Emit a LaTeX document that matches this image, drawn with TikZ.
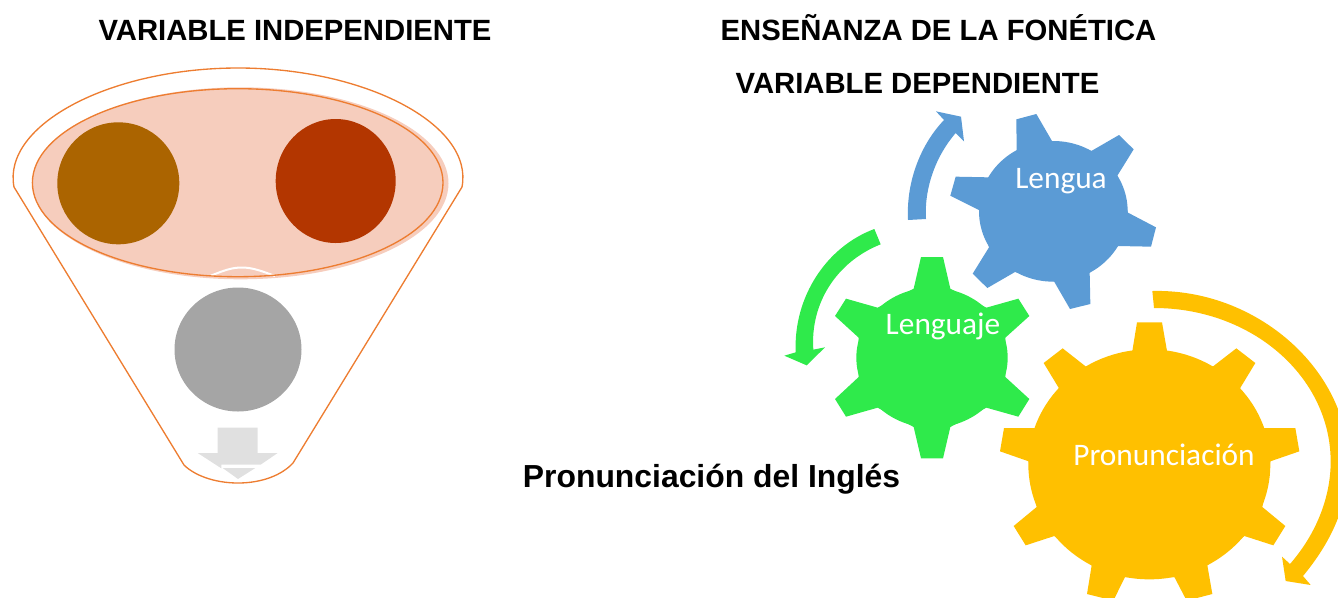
\documentclass[tikz,border=0pt]{standalone}
\usepackage{fontspec}
\setmainfont{Liberation Sans}
\newfontfamily\gearfont{Carlito}
\definecolor{funnelline}{HTML}{ED7D31}
\definecolor{pinkfill}{HTML}{F6CDBD}
\definecolor{brownc}{HTML}{AB6400}
\definecolor{redc}{HTML}{B33600}
\definecolor{grayc}{HTML}{A5A5A5}
\definecolor{arrowgray}{HTML}{E0E0E0}
\definecolor{gearblue}{HTML}{5B9BD5}
\definecolor{geargreen}{HTML}{2FEA4B}
\definecolor{gearyellow}{HTML}{FFC000}
\tikzset{
  headline/.style={anchor=base,inner sep=0pt,font=\fontsize{21.95}{24}\selectfont\bfseries},
  gearlabel/.style={anchor=base,inner sep=0pt,text=white,font=\fontsize{23.5}{26}\gearfont},
  zoomed/.style={x=.25pt,y=-.25pt},
  funnelstroke/.style={draw=funnelline,line width=1pt}
}
\begin{document}
\begin{tikzpicture}[x=.75pt,y=-.75pt]
\useasboundingbox (0,0) rectangle (1338,597);
\clip (0,0) rectangle (1338,597);
% funnel
\draw[funnelstroke] (14,187) .. controls (2,125) and (110,68) .. (238,68)
  .. controls (366,68) and (474,125) .. (462,187) -- (293,463)
  .. controls (282,475) and (262,483) .. (238,483)
  .. controls (214,483) and (194,475) .. (184,465) -- cycle;
\fill[pinkfill] (240.5,183.3) ellipse [x radius=208,y radius=96];
\fill[pinkfill] (237.7,182.7) ellipse [x radius=205.3,y radius=94];
\draw[white,line width=1.5pt] (210,276) .. controls (225,270) and (232,267.5) .. (242,267.5) .. controls (252,267.5) and (262,271) .. (275,276);
\draw[funnelstroke] (237.7,182.7) ellipse [x radius=205.3,y radius=94];
\node[circle,fill=brownc,minimum size=91.5pt,inner sep=0pt] (c1) at (118.3,183.3) {};
\fill[redc] (335.7,181) ellipse [x radius=60,y radius=62];
\fill[grayc] (238,349.5) ellipse [x radius=63.5,y radius=62];
\begin{scope}[shift={(150,250)},zoomed]
\fill[arrowgray] (203,533) -- (323,533) -- (323,609) -- (383,609) -- (332,644) -- (214,644) -- (214,655) -- (143,609) -- (203,609) -- cycle;
\fill[arrowgray] (218,654) -- (316,654) -- (264,687) -- cycle;
\end{scope}
% blue gear and arrow
\begin{scope}[shift={(780,100)},zoomed]
\fill[gearblue] (820,334) ellipse [x radius=223,y radius=211];
\fill[gearblue] (709,58) -- (769,42) -- (816,123) -- (934,153) -- (1017,105) -- (1061,148) -- (1012,227) -- (1044,338) -- (1128,382) -- (1113,440) -- (1014,438) -- (929,518) -- (931,612) -- (870,627) -- (822,544) -- (705,516) -- (622,564) -- (578,521) -- (627,442) -- (597,330) -- (511,287) -- (527,230) -- (626,232) -- (710,152) -- cycle;
\fill[gearblue] (384,360) .. controls (378,240) and (425,130) .. (492,60) -- (468,34) -- (543,50) -- (552,124) -- (527,99) .. controls (470,165) and (432,260) .. (438,357) -- cycle;
\fill[geargreen] (283,387) .. controls (140,440) and (40,590) .. (47,757) -- (13,767) -- (80,796) -- (135,742) -- (100,749) .. controls (90,610) and (170,485) .. (302,433) -- cycle;
\end{scope}
% green gear
\begin{scope}[shift={(780,240)},zoomed]
\fill[geargreen] (456,353) ellipse [x radius=227,y radius=210];
\fill[geargreen] (423,51) -- (489,51) -- (511,146) -- (619,203) -- (715,176) -- (748,228) -- (676,293) -- (676,411) -- (748,477) -- (715,530) -- (619,503) -- (511,561) -- (489,655) -- (423,655) -- (401,561) -- (293,503) -- (198,530) -- (165,477) -- (236,411) -- (236,293) -- (165,228) -- (198,176) -- (293,203) -- (401,146) -- cycle;
\end{scope}
% yellow gear and arrow
\begin{scope}[shift={(980,280)},zoomed]
\fill[gearyellow] (508,553) ellipse [x radius=363,y radius=345];
\fill[gearyellow] (471,127) -- (546,127) -- (561,213) -- (698,260) -- (769,205) -- (826,249) -- (780,325) -- (852,444) -- (946,444) -- (958,514) -- (871,544) -- (847,681) -- (916,738) -- (880,796) -- (793,768) -- (682,856) -- (697,942) -- (620,962) -- (583,891) -- (435,891) -- (400,962) -- (321,942) -- (335,856) -- (223,768) -- (137,796) -- (101,738) -- (170,681) -- (146,544) -- (60,514) -- (72,444) -- (165,444) -- (237,325) -- (191,249) -- (248,205) -- (318,260) -- (457,213) -- cycle;
\fill[gearyellow] (517,33) .. controls (830,25) and (1105,270) .. (1105,548) .. controls (1105,680) and (1050,790) .. (969,888) -- (992,915) -- (917,903) -- (906,830) -- (930,852) .. controls (1010,760) and (1052,650) .. (1052,545) .. controls (1052,291) and (817,84) .. (522,84) -- cycle;
\end{scope}
% text
\node[headline] (t1) at (295,40) {VARIABLE INDEPENDIENTE};
\node[headline] (t2) at (938.5,40) {ENSEÑANZA DE LA FONÉTICA};
\node[headline] (t3) at (917.5,93) {VARIABLE DEPENDIENTE};
\node[headline,font=\fontsize{23.9}{26}\selectfont\bfseries] (t4) at (711.5,487) {Pronunciación del Inglés};
\node[gearlabel] (g1) at (1061,188.7) {Lengua};
\node[gearlabel] (g2) at (943,334) {Lenguaje};
\node[gearlabel] (g3) at (1164,465.7) {Pronunciación};
\end{tikzpicture}
\end{document}
